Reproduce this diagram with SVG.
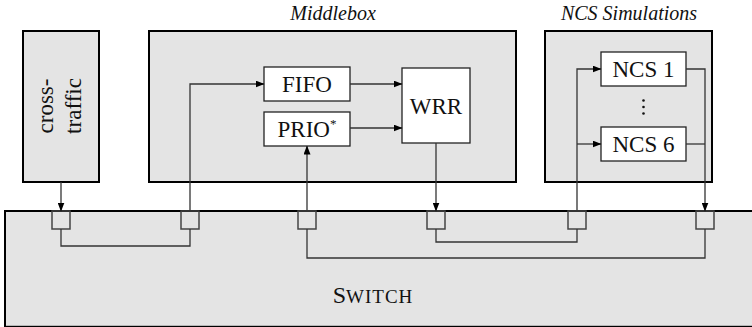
<svg xmlns="http://www.w3.org/2000/svg" width="752" height="327" viewBox="0 0 752 327">
  <style>
    .outer { fill: #e4e4e4; stroke: #000; stroke-width: 2; }
    .inner { fill: #fff; stroke: #222; stroke-width: 1.3; }
    .port { fill: none; stroke: #444; stroke-width: 1.5; }
    .wire { fill: none; stroke: #333; stroke-width: 1.3; }
    .lbl { font-family: 'Liberation Serif', 'DejaVu Serif', serif; font-size: 23px; fill: #111; }
    .title { font-family: 'Liberation Serif', 'DejaVu Serif', serif; font-size: 20px; font-style: italic; fill: #111; }
  </style>
  <defs>
    <marker id="arrow" markerWidth="9" markerHeight="7" refX="8.5" refY="3.5" orient="auto" markerUnits="userSpaceOnUse">
      <path d="M0,0 L9,3.5 L0,7 z" fill="#000"/>
    </marker>
  </defs>

  <!-- switch with its six ports -->
  <g id="switch">
    <rect class="outer" x="5" y="211" width="760" height="115.8"/>
    <text class="lbl" x="373" y="303" text-anchor="middle"><tspan font-size="24">S</tspan><tspan font-size="19" letter-spacing="1">WITCH</tspan></text>
    <rect class="port" x="52" y="211" width="18" height="18"/>
    <rect class="port" x="181" y="211" width="18" height="18"/>
    <rect class="port" x="298" y="211" width="18" height="18"/>
    <rect class="port" x="427" y="211" width="18" height="18"/>
    <rect class="port" x="568" y="211" width="18" height="18"/>
    <rect class="port" x="696" y="211" width="18" height="18"/>
  </g>

  <!-- cross-traffic source -->
  <g id="cross-traffic">
    <rect class="outer" x="23" y="31" width="76" height="151"/>
    <g transform="translate(0,106) rotate(-90)">
      <text class="lbl" x="0" y="53" text-anchor="middle">cross-</text>
      <text class="lbl" x="0" y="81" text-anchor="middle">traffic</text>
    </g>
  </g>

  <!-- middlebox with queues and scheduler -->
  <g id="middlebox">
    <text class="title" x="333" y="20" text-anchor="middle">Middlebox</text>
    <rect class="outer" x="149" y="31" width="367" height="151"/>
  </g>
  <g id="fifo">
    <rect class="inner" x="264" y="67" width="86" height="34"/>
    <text class="lbl" x="307" y="92" text-anchor="middle">FIFO</text>
  </g>
  <g id="prio">
    <rect class="inner" x="264" y="112" width="86" height="34"/>
    <text class="lbl" x="307" y="137" text-anchor="middle">PRIO<tspan font-size="13" dy="-9" fill="#111">*</tspan></text>
  </g>
  <g id="wrr">
    <rect class="inner" x="402" y="68" width="68" height="75"/>
    <text class="lbl" x="436" y="114" text-anchor="middle">WRR</text>
  </g>

  <!-- NCS simulation hosts -->
  <g id="ncs">
    <text class="title" x="629" y="20" text-anchor="middle">NCS Simulations</text>
    <rect class="outer" x="545" y="31" width="167" height="151"/>
    <circle cx="643.5" cy="100.5" r="1.3" fill="#111"/>
    <circle cx="643.5" cy="107" r="1.3" fill="#111"/>
    <circle cx="643.5" cy="113.5" r="1.3" fill="#111"/>
  </g>
  <g id="ncs1">
    <rect class="inner" x="601" y="52" width="85" height="34"/>
    <text class="lbl" x="643.5" y="77" text-anchor="middle">NCS 1</text>
  </g>
  <g id="ncs6">
    <rect class="inner" x="601" y="127" width="85" height="34"/>
    <text class="lbl" x="643.5" y="152" text-anchor="middle">NCS 6</text>
  </g>

  <!-- connectors -->
  <g id="connectors">
    <!-- inside the switch -->
    <path class="wire" d="M61,229 V246 H190 V229"/>
    <path class="wire" d="M436,229 V242 H577 V229"/>
    <path class="wire" d="M307,229 V258 H705 V229"/>
    <!-- between devices and ports -->
    <path class="wire" d="M61,182 V211" marker-end="url(#arrow)"/>
    <path class="wire" d="M190,211 V84 H264" marker-end="url(#arrow)"/>
    <path class="wire" d="M350,84 H402" marker-end="url(#arrow)"/>
    <path class="wire" d="M350,128 H402" marker-end="url(#arrow)"/>
    <path class="wire" d="M307,211 V146" marker-end="url(#arrow)"/>
    <path class="wire" d="M436,143 V211" marker-end="url(#arrow)"/>
    <path class="wire" d="M577,211 V69 H601" marker-end="url(#arrow)"/>
    <path class="wire" d="M577,144 H601" marker-end="url(#arrow)"/>
    <path class="wire" d="M686,69 H705 V211" marker-end="url(#arrow)"/>
    <path class="wire" d="M686,144 H705"/>
  </g>
</svg>
